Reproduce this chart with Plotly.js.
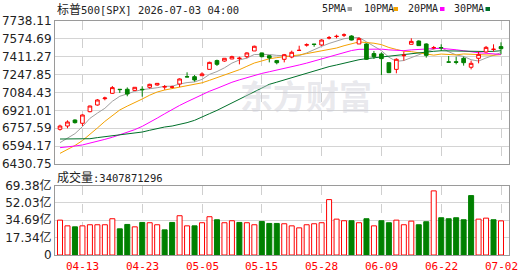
<!DOCTYPE html>
<html><head><meta charset="utf-8">
<script src="https://cdn.plot.ly/plotly-3.0.1.min.js"></script>
<style>html,body{margin:0;padding:0;background:#fff}#chart{width:530px;height:276px}</style>
</head><body><div id="chart"></div>
<script>
// ---- data ----
const dates = ['04-08','04-09','04-10','04-13','04-14','04-15','04-16','04-17','04-20','04-21',
  '04-22','04-23','04-24','04-27','04-28','04-29','04-30','05-01','05-04','05-05',
  '05-06','05-07','05-08','05-11','05-12','05-13','05-14','05-15','05-18','05-19',
  '05-20','05-21','05-22','05-26','05-27','05-28','05-29','06-01','06-02','06-03',
  '06-04','06-05','06-08','06-09','06-10','06-11','06-12','06-15','06-16','06-17',
  '06-18','06-22','06-23','06-24','06-25','06-26','06-29','06-30','07-01','07-02'];
const openP = [6748,6778,6833,6803,6909,6970,7028,7077,7114,7114,
  7104,7114,7132,7153,7134,7133,7162,7229,7229,7238,
  7296,7376,7372,7391,7394,7412,7464,7446,7421,7376,
  7388,7409,7469,7518,7527,7519,7583,7596,7609,7601,
  7528,7528,7440,7437,7357,7296,7421,7525,7555,7528,
  7493,7495,7364,7366,7397,7315,7397,7455,7478,7504];
const highP = [6790,6830,6839,6885,6964,7025,7046,7144,7114,7131,
  7133,7141,7165,7168,7153,7147,7214,7269,7244,7269,
  7366,7385,7397,7421,7412,7452,7513,7449,7427,7382,
  7437,7467,7512,7534,7527,7571,7601,7613,7625,7607,
  7589,7534,7464,7452,7360,7397,7458,7580,7561,7534,
  7510,7525,7418,7412,7412,7376,7458,7510,7525,7543];
const lowP = [6736,6757,6800,6778,6903,6964,7013,7071,7080,7050,
  7101,7046,7120,7147,7110,7123,7135,7225,7184,7238,
  7296,7327,7366,7390,7342,7397,7464,7406,7360,7342,
  7360,7397,7467,7504,7503,7510,7570,7580,7592,7561,
  7528,7382,7391,7245,7262,7260,7376,7525,7510,7403,
  7479,7464,7361,7342,7330,7296,7351,7449,7458,7433];
const closeP = [6778,6815,6809,6879,6961,7016,7034,7129,7111,7071,
  7132,7110,7159,7168,7138,7135,7208,7227,7199,7254,
  7360,7342,7397,7412,7398,7446,7507,7412,7400,7357,
  7430,7452,7470,7521,7524,7564,7585,7598,7611,7564,
  7577,7388,7412,7394,7266,7388,7425,7552,7513,7424,
  7495,7493,7362,7360,7357,7351,7433,7497,7480,7485];
const ma5 = [6626,6669,6708,6772,6848,6896,6940,7004,7050,7072,
  7095,7110,7116,7128,7141,7142,7162,7175,7181,7204,
  7250,7276,7310,7353,7382,7399,7432,7435,7432,7424,
  7421,7410,7422,7446,7479,7506,7533,7558,7576,7585,
  7587,7548,7510,7467,7407,7369,7377,7405,7429,7460,
  7482,7495,7457,7428,7414,7384,7372,7400,7424,7449];
const ma10 = [6528,6562,6600,6645,6700,6760,6820,6875,6925,6960,
  6996,7025,7060,7089,7107,7119,7136,7146,7155,7173,
  7196,7219,7243,7267,7293,7324,7354,7373,7393,7403,
  7410,7421,7428,7440,7452,7464,7472,7491,7512,7532,
  7547,7541,7535,7522,7496,7478,7462,7458,7448,7434,
  7426,7436,7431,7428,7437,7433,7434,7428,7425,7431];
const ma20 = [6580,6586,6595,6605,6620,6635,6656,6675,6696,6720,
  6745,6775,6810,6850,6890,6930,6966,7000,7033,7067,
  7096,7122,7151,7178,7200,7221,7245,7259,7274,7288,
  7303,7320,7336,7353,7373,7394,7413,7432,7452,7468,
  7479,7481,7482,7481,7474,7471,7467,7474,7480,7483,
  7486,7488,7483,7475,7466,7456,7448,7443,7436,7432];
const ma30 = [6659,6659,6659,6659,6662,6672,6681,6690,6696,6702,
  6711,6723,6739,6757,6769,6778,6790,6809,6830,6864,
  6891,6921,6955,6989,7025,7059,7098,7129,7159,7179,
  7200,7222,7244,7265,7284,7302,7321,7336,7353,7369,
  7384,7394,7402,7409,7414,7422,7429,7440,7451,7456,
  7461,7466,7465,7463,7462,7458,7456,7459,7461,7466];
// volume in 亿
const volume = [34.8,29.1,28.1,29.1,30.2,30.2,30.2,36.2,26.1,30.5,
  28.1,32.5,32.2,30.2,25.1,32.5,39.2,29.1,29.1,32.2,
  38.2,35.2,32.2,34.2,32.5,32.2,30.2,33.5,31.5,31.5,
  31.2,29.1,27.1,30.2,31.2,32.2,55.3,35.8,34.2,34.2,
  32.2,36.2,29.1,34.2,32.2,34.8,30.2,33.8,30.2,33.2,
  64.0,37.2,36.2,37.2,35.2,59.3,35.8,36.8,35.2,34.08];
const priceTicks = [6430.75,6594.17,6757.59,6921.01,7084.43,7247.85,7411.27,7574.69,7738.11];
const volTicks = [0,17.34,34.69,52.03,69.38];
const volTickText = ['0','17.34亿','34.69亿','52.03亿','69.38亿'];
const dateTicks = ['04-13','04-23','05-05','05-15','05-28','06-09','06-22','07-02'];
const titleCn = '标普';
const titleRest = '500[SPX] 2026-07-03 04:00';
const volLabelCn = '成交量';
const volLabelRest = ':3407871296';
const maNames = ['5PMA','10PMA','20PMA','30PMA'];
const watermark = '东方财富';

// ---- styles ----
const RED = '#ff0000', GREEN = '#008000';
const maColors = ['#a0a0a0','#f5a200','#ff00ff','#00702a'];
const L = 55, R = 509, T = 21, B = 255;
const px = v => (v - L) / (R - L);
const py = v => (B - v) / (B - T);
const mono = 'DejaVu Sans Mono, Liberation Mono, monospace';
const cjk = "Noto Sans CJK SC";

const volUp = closeP.map((c, i) => i === 0 ? true : c >= closeP[i - 1]);

const maTraces = [ma5, ma10, ma20, ma30].map((m, k) => ({
  type: 'scatter', mode: 'lines', x: dates, y: m, xaxis: 'x', yaxis: 'y',
  line: {color: maColors[k], width: 1}, hoverinfo: 'skip', showlegend: false
}));

const candle = {
  type: 'candlestick', x: dates, open: openP, high: highP, low: lowP, close: closeP,
  xaxis: 'x', yaxis: 'y3', showlegend: false, hoverinfo: 'skip', whiskerwidth: 0,
  increasing: {line: {color: RED, width: 1}, fillcolor: '#ffffff'},
  decreasing: {line: {color: GREEN, width: 1}, fillcolor: GREEN}
};

const volBars = {
  type: 'bar', x: dates, y: volume, xaxis: 'x', yaxis: 'y2', showlegend: false, hoverinfo: 'skip',
  marker: {color: volUp.map(u => u ? '#ffffff' : GREEN),
           line: {color: volUp.map(u => u ? RED : GREEN), width: 1}}
};

const annotations = [
  {xref:'paper', yref:'paper', x: px(55), y: py(9), xanchor:'left', yanchor:'middle', showarrow:false,
   text: '<span style="font-family:\'' + cjk + '\';font-size:12px">' + titleCn + '</span>' + titleRest,
   font: {family: mono, size: 10.5, color: '#222'}},
  {xref:'paper', yref:'paper', x: px(55), y: py(176), xanchor:'left', yanchor:'middle', showarrow:false,
   text: '<span style="font-family:\'' + cjk + '\';font-size:12px">' + volLabelCn + '</span>' + volLabelRest,
   font: {family: mono, size: 10.5, color: '#222'}},
  {xref:'paper', yref:'paper', x: px(306), y: py(95), xanchor:'center', yanchor:'middle', showarrow:false,
   text: watermark, font: {family: cjk, size: 33, weight: 700, color: 'rgba(205,205,215,0.45)'}}
];
// date labels under the volume panel (red)
dateTicks.forEach(d => {
  annotations.push({xref:'x', yref:'paper', x: d, y: py(266), xanchor:'center', yanchor:'middle',
    showarrow:false, text: d, font: {family: mono, size: 11, color: RED}});
});
const legendX = [319.5, 361.5, 406, 452];
const markX = [347.5, 393.5, 440, 485.5];
const shapes = [];
maNames.forEach((n, k) => {
  annotations.push({xref:'paper', yref:'paper', x: px(legendX[k]), y: py(9), xanchor:'left', yanchor:'middle',
    showarrow:false, text: n, font: {family: mono, size: 10, color: '#222'}});
  shapes.push({type:'rect', xref:'paper', yref:'paper', x0: px(markX[k]), x1: px(markX[k] + 4.5),
    y0: py(11), y1: py(7), fillcolor: maColors[k], line: {width: 0}});
});

const layout = {
  width: 530, height: 276, autosize: false,
  margin: {l: L, r: 530 - R, t: T, b: 276 - B, pad: 0},
  paper_bgcolor: '#ffffff', plot_bgcolor: '#ffffff',
  showlegend: false, bargap: 0.33, hovermode: false,
  xaxis: {type: 'category', anchor: 'y2', range: [-0.67, 60.07], tickmode: 'array', tickvals: dateTicks,
    showticklabels: false, showgrid: true, gridcolor: '#cfcfcf', griddash: 'dash', gridwidth: 1,
    showline: true, mirror: 'all', linecolor: '#9a9a9a', linewidth: 1, ticks: '',
    rangeslider: {visible: false}, fixedrange: true},
  yaxis: {domain: [py(164), 1], range: [priceTicks[0], priceTicks[priceTicks.length - 1]],
    tickmode: 'array', tickvals: priceTicks, ticktext: priceTicks.map(v => v.toFixed(2)),
    showgrid: true, gridcolor: '#d4d4d4', zeroline: false, showline: true, mirror: true,
    linecolor: '#9a9a9a', ticks: '', tickfont: {family: 'DejaVu Sans', size: 12, color: '#222'}, fixedrange: true},
  yaxis3: {overlaying: 'y', range: [priceTicks[0], priceTicks[priceTicks.length - 1]], visible: false,
    showgrid: false, zeroline: false, fixedrange: true},
  yaxis2: {domain: [0, py(185.5)], range: [volTicks[0], volTicks[volTicks.length - 1]],
    tickmode: 'array', tickvals: volTicks, ticktext: volTickText,
    showgrid: true, gridcolor: '#d4d4d4', zeroline: false, showline: true, mirror: true,
    linecolor: '#9a9a9a', ticks: '', tickfont: {family: 'DejaVu Sans, ' + cjk, size: 12, color: '#222'}, fixedrange: true},
  annotations: annotations, shapes: shapes
};

Plotly.newPlot('chart', [...maTraces, volBars, candle], layout, {staticPlot: true, displayModeBar: false});
</script></body></html>
